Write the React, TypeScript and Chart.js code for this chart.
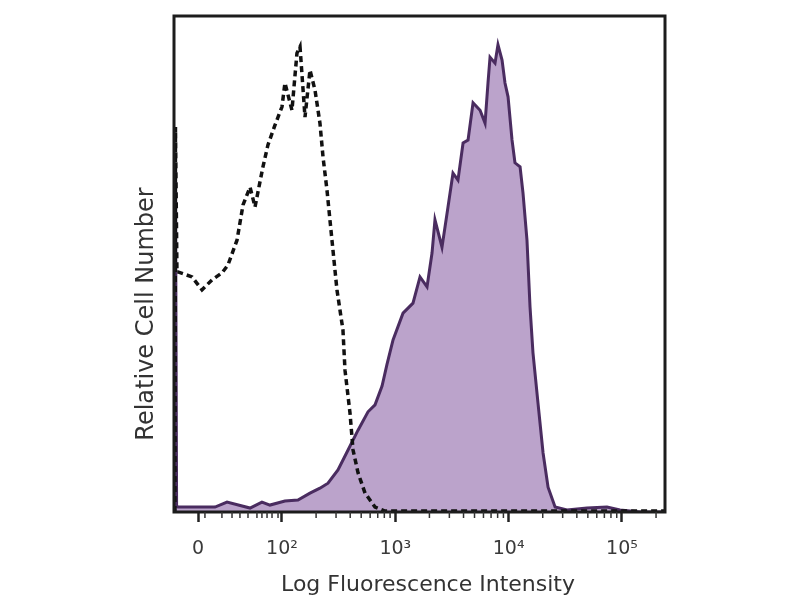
import { useEffect, useRef } from 'react';
import { Chart, registerables } from 'chart.js';

Chart.register(...registerables);

// Positions are in display "decade" units: 2 = 10^2, 3 = 10^3, ...; 1.259 = 0 (biexponential zero)
const purpleX = [1.055, 1.06, 1.07, 1.082, 1.409, 1.515, 1.718, 1.823, 1.894, 2.026, 2.141, 2.247, 2.335, 2.406, 2.494, 2.583, 2.671, 2.759, 2.821, 2.883, 2.927, 2.98, 3.068, 3.156, 3.218, 3.28, 3.324, 3.35, 3.412, 3.465, 3.509, 3.553, 3.598, 3.642, 3.686, 3.748, 3.792, 3.818, 3.836, 3.88, 3.906, 3.942, 3.968, 3.995, 4.03, 4.056, 4.101, 4.127, 4.162, 4.189, 4.215, 4.259, 4.304, 4.348, 4.41, 4.515, 4.692, 4.868, 4.983, 5.16, 5.38];
const purpleY = [0, 69, 1.2, 1.0, 1.0, 2.0, 0.8, 2.0, 1.4, 2.2, 2.4, 3.8, 4.8, 5.8, 8.5, 12.5, 16.5, 20.2, 21.6, 25.4, 29.8, 34.7, 40.1, 42.1, 47.4, 45.4, 52.2, 58.9, 53.4, 61.5, 68.3, 66.9, 74.4, 75.0, 82.5, 81.0, 78.4, 86.5, 91.7, 90.5, 94.2, 91.1, 86.5, 83.7, 75.0, 70.4, 69.6, 64.3, 54.8, 41.3, 32.1, 22.0, 11.9, 5.0, 1.0, 0.4, 0.8, 1.0, 0.4, 0, 0];

const dashedX = [1.055, 1.06, 1.073, 1.082, 1.206, 1.294, 1.382, 1.47, 1.523, 1.603, 1.656, 1.718, 1.762, 1.832, 1.876, 1.938, 2.0, 2.026, 2.088, 2.132, 2.159, 2.203, 2.247, 2.291, 2.335, 2.362, 2.397, 2.441, 2.485, 2.538, 2.556, 2.6, 2.627, 2.671, 2.733, 2.821, 2.909, 5.38];
const dashedY = [0, 77.6, 48.4, 48.4, 47.4, 44.8, 46.8, 48.2, 49.8, 54.8, 61.9, 65.5, 61.5, 69.6, 74.0, 78.0, 81.7, 86.5, 81.0, 92.5, 93.8, 79.6, 89.1, 85.1, 78.4, 71.6, 64.9, 54.8, 44.8, 36.7, 28.6, 20.0, 12.5, 7.9, 3.8, 1.0, 0.2, 0.2];

const majorTickValues = [1.259, 2, 3, 4, 5];
const majorTickLabels = ['0', '10²', '10³', '10⁴', '10⁵'];
const minorTickValues = [1.32, 1.47, 1.559, 1.629, 1.7, 1.779, 1.823, 1.868, 1.912, 1.965,
  2.301, 2.477, 2.602, 2.699, 2.778, 2.845, 2.903, 2.954,
  3.301, 3.477, 3.602, 3.699, 3.778, 3.845, 3.903, 3.954,
  4.301, 4.477, 4.602, 4.699, 4.778, 4.845, 4.903, 4.954,
  5.301];

const xTitle = 'Log Fluorescence Intensity';
const yTitle = 'Relative Cell Number';

const FONT = "'DejaVu Sans', Verdana, sans-serif";

export default function App() {
  const ref = useRef<HTMLCanvasElement | null>(null);

  useEffect(() => {
    const canvas = ref.current;
    if (!canvas) return;

    const decorPlugin = {
      id: 'decor',
      beforeDraw(chart: any) {
        const { ctx } = chart;
        ctx.save();
        ctx.fillStyle = '#ffffff';
        ctx.fillRect(0, 0, chart.width, chart.height);
        ctx.restore();
      },
      afterDatasetsDraw(chart: any) {
        const { ctx, chartArea } = chart;
        const xs = chart.scales.x;
        ctx.save();
        // frame
        ctx.strokeStyle = '#1c1c1c';
        ctx.lineWidth = 3;
        ctx.strokeRect(chartArea.left, chartArea.top, chartArea.right - chartArea.left, chartArea.bottom - chartArea.top);
        // minor ticks
        ctx.strokeStyle = '#333333';
        ctx.lineWidth = 1.5;
        minorTickValues.forEach((v) => {
          const px = xs.getPixelForValue(v);
          ctx.beginPath();
          ctx.moveTo(px, chartArea.bottom);
          ctx.lineTo(px, chartArea.bottom + 6);
          ctx.stroke();
        });
        // axis titles
        ctx.fillStyle = '#333333';
        ctx.textAlign = 'center';
        ctx.textBaseline = 'middle';
        ctx.font = `22px ${FONT}`;
        ctx.fillText(xTitle, 428, 585);
        ctx.font = `24px ${FONT}`;
        ctx.translate(147, 314);
        ctx.rotate(-Math.PI / 2);
        ctx.fillText(yTitle, 0, 0);
        ctx.restore();
      },
    };

    const chart = new Chart(canvas, {
      type: 'line',
      data: {
        datasets: [
          {
            label: 'Isotype control',
            data: dashedX.map((x, i) => ({ x, y: dashedY[i] })),
            borderColor: '#111111',
            borderWidth: 3.5,
            borderDash: [6, 4],
            fill: false,
            pointRadius: 0,
            tension: 0,
            order: 0,
          },
          {
            label: 'Stained',
            data: purpleX.map((x, i) => ({ x, y: purpleY[i] })),
            borderColor: '#4a2c60',
            backgroundColor: '#bba3cb',
            borderWidth: 3,
            fill: 'origin',
            pointRadius: 0,
            tension: 0,
            order: 1,
          },
        ],
      },
      options: {
        animation: false,
        responsive: false,
        devicePixelRatio: 1,
        layout: { padding: { left: 110, top: 16, right: 135, bottom: 0 } },
        plugins: {
          legend: { display: false },
          tooltip: { enabled: false },
          title: { display: false },
        },
        scales: {
          x: {
            type: 'linear',
            min: 1.047,
            max: 5.38,
            afterFit: (scale: any) => { scale.height = 88; },
            afterBuildTicks: (scale: any) => {
              scale.ticks = majorTickValues.map((v) => ({ value: v }));
            },
            grid: {
              display: true,
              drawOnChartArea: false,
              drawTicks: true,
              tickLength: 10,
              tickWidth: 2.5,
              tickColor: '#222222',
            },
            border: { display: false },
            ticks: {
              autoSkip: false,
              maxRotation: 0,
              padding: 16,
              color: '#3a3a3a',
              font: { family: FONT, size: 19 },
              callback: (_v: any, index: number) => majorTickLabels[index],
            },
            title: { display: false },
          },
          y: {
            type: 'linear',
            min: 0,
            max: 100,
            afterFit: (scale: any) => { scale.width = 64; },
            grid: { display: false },
            border: { display: false },
            ticks: { display: false },
          },
        },
      },
      plugins: [decorPlugin],
    });

    return () => chart.destroy();
  }, []);

  return (
    <div style={{ position: 'absolute', left: 0, top: 0, width: 800, height: 600 }}>
      <canvas ref={ref} width={800} height={600} style={{ display: 'block' }} />
    </div>
  );
}
